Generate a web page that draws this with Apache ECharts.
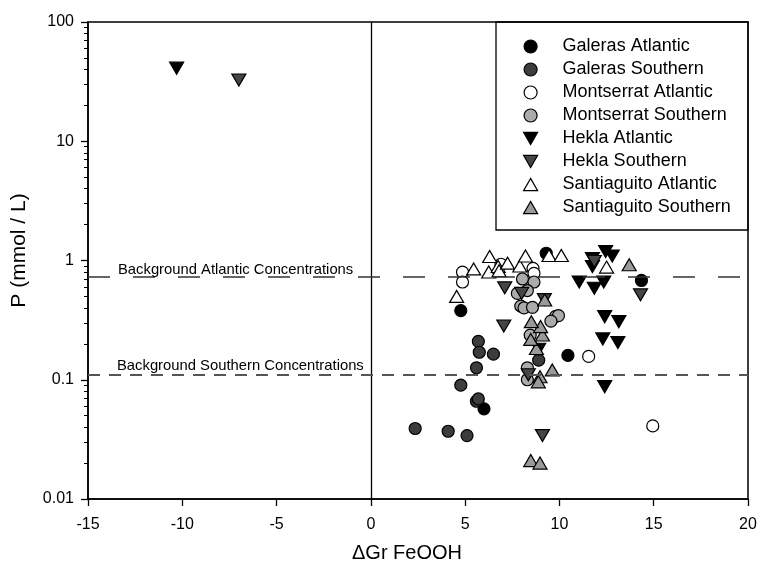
<!DOCTYPE html>
<html><head><meta charset="utf-8">
<script src="https://cdn.jsdelivr.net/npm/echarts@6/dist/echarts.min.js"></script>
<style>html,body{margin:0;padding:0;background:#fff}#c{width:761px;height:566px}</style>
</head><body><div id="c"></div>
<script>
const seriesNames = ['Galeras Atlantic','Galeras Southern','Montserrat Atlantic','Montserrat Southern','Hekla Atlantic','Hekla Southern','Santiaguito Atlantic','Santiaguito Southern'];
const galerasAtlantic = [[4.77,0.38],[6.0,0.057],[9.3,1.15],[10.45,0.16],[14.35,0.68]];
const galerasSouthern = [[2.35,0.039],[4.1,0.037],[5.1,0.034],[4.77,0.09],[5.6,0.066],[5.7,0.069],[5.6,0.126],[5.7,0.21],[5.75,0.17],[6.5,0.164],[8.9,0.146]];
const montserratAtlantic = [[4.86,0.80],[4.86,0.66],[6.9,0.93],[8.6,0.86],[8.65,0.78],[11.55,0.157],[14.95,0.041]];
const montserratSouthern = [[7.77,0.53],[7.95,0.415],[8.12,0.40],[8.57,0.405],[9.8,0.34],[9.95,0.345],[9.55,0.31],[8.45,0.237],[8.3,0.126],[8.3,0.10],[8.04,0.70],[8.65,0.66],[8.3,0.56]];
const heklaAtlantic = [[-10.3,41],[8.9,0.18],[11.05,0.66],[11.75,1.04],[11.75,0.89],[11.85,0.585],[12.35,0.66],[12.45,1.19],[12.8,1.09],[12.4,0.338],[13.15,0.307],[12.3,0.22],[13.1,0.205],[12.4,0.0875]];
const heklaSouthern = [[-7.0,32.6],[7.05,0.282],[7.1,0.59],[8.0,0.53],[8.35,0.11],[9.1,0.034],[9.2,0.47],[11.85,0.98],[14.3,0.515]];
const santiaguitoAtlantic = [[4.55,0.5],[5.45,0.85],[6.25,0.80],[6.3,1.08],[6.75,0.89],[6.8,0.82],[7.25,0.95],[7.9,0.90],[8.2,1.09],[9.45,1.1],[10.1,1.1],[12.5,0.88]];
const santiaguitoSouthern = [[8.48,0.021],[8.97,0.020],[9.62,0.121],[8.97,0.106],[8.88,0.096],[8.78,0.183],[8.48,0.218],[9.1,0.237],[9.0,0.279],[8.51,0.307],[9.22,0.467],[13.7,0.92]];
const xTicks = [-15,-10,-5,0,5,10,15,20];
const yMinorTicks = [0.02,0.03,0.04,0.05,0.06,0.07,0.08,0.09,0.2,0.3,0.4,0.5,0.6,0.7,0.8,0.9,2,3,4,5,6,7,8,9,20,30,40,50,60,70,80,90];
const bgAtlantic = 0.73;
const bgSouthern = 0.113;
const bgLabels = ['Background Atlantic Concentrations','Background Southern Concentrations'];

const DOWN = 'path://M0,0L10,0L5,8.7Z';
const UP = 'path://M5,0L10,8.7L0,8.7Z';
const styles = [
  {sym:'circle', fill:'#000'},
  {sym:'circle', fill:'#3c3c3c'},
  {sym:'circle', fill:'#fff'},
  {sym:'circle', fill:'#ababab'},
  {sym:DOWN, fill:'#000'},
  {sym:DOWN, fill:'#454545'},
  {sym:UP, fill:'#fff'},
  {sym:UP, fill:'#9a9a9a'}
];
const datasets = [galerasAtlantic,galerasSouthern,montserratAtlantic,montserratSouthern,heklaAtlantic,heklaSouthern,santiaguitoAtlantic,santiaguitoSouthern];
const FONT = 'Liberation Sans, Arial, sans-serif';

const series = datasets.map((d,i)=>({
  name: seriesNames[i], type:'scatter', data:d,
  symbol: styles[i].sym,
  symbolSize: styles[i].sym==='circle' ? 12 : [14,12],
  itemStyle:{color:styles[i].fill, borderColor:'#000', borderWidth:1.2, opacity:1},
  z: 3
}));
series.push({
  type:'scatter', data:[], silent:true,
  markLine:{
    silent:true, symbol:'none', animation:false,
    label:{show:false},
    data:[
      {xAxis:0, lineStyle:{color:'#000', width:1.3, type:'solid'}},
      {yAxis:bgAtlantic, lineStyle:{color:'#333', width:1.5, type:[22,23]}},
      {yAxis:bgSouthern, lineStyle:{color:'#555', width:2, type:[12,9]}}
    ]
  }
});

const chart = echarts.init(document.getElementById('c'), null, {renderer:'canvas'});
chart.setOption({
  animation:false,
  backgroundColor:'#fff',
  grid:{left:88, top:22, width:660, height:477, outerBoundsMode:'none', containLabel:false,
    show:true, borderColor:'#000', borderWidth:1.5, backgroundColor:'transparent'},
  legend:{
    orient:'vertical', left:518, top:32, itemWidth:14, itemHeight:13, itemGap:4,
    data: seriesNames,
    textStyle:{fontFamily:FONT, fontSize:18, color:'#000', padding:[0,0,0,20], lineHeight:19},
    itemStyle:{borderColor:'#000', borderWidth:1.2}
  },
  xAxis:{
    type:'value', min:-15, max:20, interval:5,
    name:'ΔGr FeOOH', nameLocation:'middle', nameGap:44,
    nameTextStyle:{fontFamily:FONT, fontSize:20, color:'#000', padding:[0,22,0,0]},
    axisLine:{onZero:false, lineStyle:{color:'#000', width:1.5}},
    axisTick:{show:true, length:7, inside:false, lineStyle:{color:'#000', width:1.3}},
    axisLabel:{fontFamily:FONT, fontSize:16, color:'#000', margin:18, customValues: xTicks},
    splitLine:{show:false}
  },
  yAxis:[{
    type:'log', min:0.01, max:100, logBase:10,
    name:'P (mmol / L)', nameLocation:'middle', nameGap:58, nameRotate:90,
    nameTextStyle:{fontFamily:FONT, fontSize:21, color:'#000', padding:[0,0,0,20]},
    axisLine:{onZero:false, lineStyle:{color:'#000', width:1.5}},
    axisTick:{show:true, length:7, lineStyle:{color:'#000', width:1.3}},
    axisLabel:{fontFamily:FONT, fontSize:16, color:'#000', margin:14,
      formatter:v=>String(v)},
    splitLine:{show:false}
  },{
    type:'log', min:0.01, max:100, logBase:10, position:'left',
    axisLine:{show:false, onZero:false},
    axisTick:{show:true, length:4, customValues: yMinorTicks, lineStyle:{color:'#000', width:1}},
    axisLabel:{show:false}, splitLine:{show:false}
  }],
  series: series
});

function addLabels(){
  const pA = chart.convertToPixel({xAxisIndex:0,yAxisIndex:0},[-15,bgAtlantic]);
  const pS = chart.convertToPixel({xAxisIndex:0,yAxisIndex:0},[-15,bgSouthern]);
  chart.setOption({graphic:[
    {type:'text', left:pA[0]+30, top:pA[1]-14, z:10, style:{text:bgLabels[0], fontFamily:FONT, fontSize:14.8, fill:'#000'}},
    {type:'text', left:pS[0]+29, top:pS[1]-15, z:10, style:{text:bgLabels[1], fontFamily:FONT, fontSize:14.8, fill:'#000'}},
    {type:'rect', shape:{x:496, y:22, width:252, height:208}, style:{fill:'none', stroke:'#000', lineWidth:1.3}, z:10, silent:true}
  ]});
}
addLabels();
</script></body></html>
